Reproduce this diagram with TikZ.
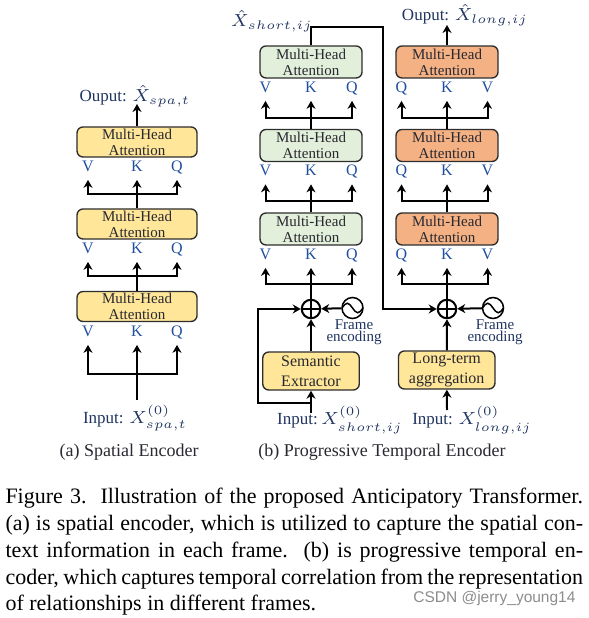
\documentclass[tikz,border=0pt]{standalone}
\usepackage{fontspec}
\setmainfont{Liberation Serif}
\newfontfamily\marksans{Liberation Sans}
\usepackage{xcolor}
\definecolor{attnyellow}{RGB}{255,230,153}
\definecolor{attngreen}{RGB}{226,239,218}
\definecolor{attnorange}{RGB}{244,177,131}
\definecolor{boxline}{RGB}{45,45,45}
\definecolor{boxtext}{RGB}{40,40,48}
\definecolor{qkvblue}{RGB}{31,78,160}
\definecolor{navy}{RGB}{32,52,96}
\usetikzlibrary{arrows.meta,positioning,calc}

\begin{document}
\begin{tikzpicture}[
  x=0.4pt, y=-0.4pt,
  attn/.style={draw=boxline, rounded corners=2.4pt, line width=0.55pt, align=center, inner sep=0pt, text=boxtext, font=\fontsize{6}{6.4}\selectfont},
  spabox/.style={attn, fill=attnyellow, minimum width=48pt, minimum height=12pt},
  shortbox/.style={attn, fill=attngreen, minimum width=40.8pt, minimum height=12.8pt},
  longbox/.style={attn, fill=attnorange, minimum width=40.8pt, minimum height=12.8pt},
  prebox/.style={attn, fill=attnyellow, minimum width=38.6pt, minimum height=15.2pt, font=\fontsize{6.4}{8}\selectfont},
  qkv/.style={inner sep=0pt, outer ysep=3.4pt, text=qkvblue, font=\fontsize{6.4}{6.4}\selectfont, text height=4.3pt, text depth=0pt},
  iolabel/.style={inner sep=0pt, text=navy, font=\fontsize{6.8}{7}\selectfont},
  encnote/.style={inner sep=0pt, text=navy, align=center, font=\fontsize{6}{4.9}\selectfont},
  sublabel/.style={inner sep=0pt, text=boxtext, font=\fontsize{7.2}{8}\selectfont},
  plus/.style={draw, circle, line width=0.8pt, minimum size=7.4pt, inner sep=0pt,
    path picture={\draw[line width=0.6pt] (path picture bounding box.north) -- (path picture bounding box.south)
      (path picture bounding box.west) -- (path picture bounding box.east);}},
  wave/.style={draw, circle, line width=0.6pt, minimum size=8.4pt, inner sep=0pt,
    path picture={\draw[line width=0.6pt] (path picture bounding box.west) sin ++(2.1pt,1.9pt) cos ++(2.1pt,-1.9pt)
      sin ++(2.1pt,-1.9pt) cos ++(2.1pt,1.9pt);}},
  link/.style={line width=0.8pt},
  arrow/.style={-{Stealth[length=3.2pt,width=3.6pt]}, line width=0.8pt}
]
\useasboundingbox (0,0) rectangle (588,618);

% (a) spatial encoder
\node[spabox] (sa1) at (137,142) {Multi-Head\\Attention};
\node[spabox] (sa2) at (137,224) {Multi-Head\\Attention};
\node[spabox] (sa3) at (137,306.5) {Multi-Head\\Attention};
\node[qkv] (sa1v) at (88,166) {V};
\node[qkv] (sa1k) at (137,166) {K};
\node[qkv] (sa1q) at (177,166) {Q};
\node[qkv] (sa2v) at (88,248) {V};
\node[qkv] (sa2k) at (137,248) {K};
\node[qkv] (sa2q) at (177,248) {Q};
\node[qkv] (sa3v) at (88,331) {V};
\node[qkv] (sa3k) at (137,331) {K};
\node[qkv] (sa3q) at (177,331) {Q};
\coordinate (sa2h) at (137,194);
\coordinate (sa3h) at (137,276);
\coordinate (sainh) at (137,374);
\coordinate (sabase) at (137,400);
\coordinate (satop) at (137,104);
\node[iolabel] (outa) at (135,96) {Ouput: $\hat{X}_{spa,t}$};
\node[iolabel] (ina) at (135,418) {Input: $X^{(0)}_{spa,t}$};
\node[sublabel] (capa) at (129,452) {(a) Spatial Encoder};

\draw[arrow] (sa1) -- (satop);
\draw[link] (sa2) -- (sa2h);
\draw[arrow] (sa2h) -| (sa1v.south);
\draw[arrow] (sa2h) -- (sa1k.south);
\draw[arrow] (sa2h) -| (sa1q.south);
\draw[link] (sa3) -- (sa3h);
\draw[arrow] (sa3h) -| (sa2v.south);
\draw[arrow] (sa3h) -- (sa2k.south);
\draw[arrow] (sa3h) -| (sa2q.south);
\draw[link] (sabase) -- (sainh);
\draw[arrow] (sainh) -| (sa3v.south);
\draw[arrow] (sainh) -- (sa3k.south);
\draw[arrow] (sainh) -| (sa3q.south);

% (b) short-term branch
\node[shortbox] (sb1) at (311,62) {Multi-Head\\Attention};
\node[shortbox] (sb2) at (311,145.5) {Multi-Head\\Attention};
\node[shortbox] (sb3) at (311,229) {Multi-Head\\Attention};
\node[qkv] (sb1v) at (265.5,87) {V};
\node[qkv] (sb1k) at (311,87) {K};
\node[qkv] (sb1q) at (352,87) {Q};
\node[qkv] (sb2v) at (265.5,170.5) {V};
\node[qkv] (sb2k) at (311,170.5) {K};
\node[qkv] (sb2q) at (352,170.5) {Q};
\node[qkv] (sb3v) at (265.5,254) {V};
\node[qkv] (sb3k) at (311,254) {K};
\node[qkv] (sb3q) at (352,254) {Q};
\coordinate (sb2h) at (311,118);
\coordinate (sb3h) at (311,201.5);
\coordinate (sbh) at (311,284);
\node[plus] (ps) at (311,309) {};
\node[wave] (fs) at (352.5,308) {};
\node[encnote] (fsn) at (354,332) {Frame\\encoding};
\node[prebox] (sem) at (311,371) {Semantic\\Extractor};
\coordinate (sbase) at (311,413);
\coordinate (sfork) at (311,403);
\coordinate (sleft) at (258,403);
\coordinate (sturn) at (383,27);
\node[iolabel] (outs) at (272,21) {$\hat{X}_{short,ij}$};
\node[iolabel] (ins) at (340,420) {Input:$\,X^{(0)}_{short,ij}$};

\draw[link] (sb2) -- (sb2h);
\draw[arrow] (sb2h) -| (sb1v.south);
\draw[arrow] (sb2h) -- (sb1k.south);
\draw[arrow] (sb2h) -| (sb1q.south);
\draw[link] (sb3) -- (sb3h);
\draw[arrow] (sb3h) -| (sb2v.south);
\draw[arrow] (sb3h) -- (sb2k.south);
\draw[arrow] (sb3h) -| (sb2q.south);
\draw[link] (ps) -- (sbh);
\draw[arrow] (sbh) -| (sb3v.south);
\draw[arrow] (sbh) -- (sb3k.south);
\draw[arrow] (sbh) -| (sb3q.south);
\draw[arrow] (fs) -- (ps);
\draw[arrow] (sem) -- (ps);
\draw[arrow] (sbase) -- (sem);
\draw[arrow] (sfork) -- (sleft) |- (ps);

% (b) long-term branch
\node[longbox] (lb1) at (447,62) {Multi-Head\\Attention};
\node[longbox] (lb2) at (447,145.5) {Multi-Head\\Attention};
\node[longbox] (lb3) at (447,229) {Multi-Head\\Attention};
\node[qkv] (lb1q) at (401.5,87) {Q};
\node[qkv] (lb1k) at (447,87) {K};
\node[qkv] (lb1v) at (487.5,87) {V};
\node[qkv] (lb2q) at (401.5,170.5) {Q};
\node[qkv] (lb2k) at (447,170.5) {K};
\node[qkv] (lb2v) at (487.5,170.5) {V};
\node[qkv] (lb3q) at (401.5,254) {Q};
\node[qkv] (lb3k) at (447,254) {K};
\node[qkv] (lb3v) at (487.5,254) {V};
\coordinate (lb2h) at (447,118);
\coordinate (lb3h) at (447,201.5);
\coordinate (lbh) at (447,284);
\coordinate (ltop) at (447,25);
\node[plus] (pl) at (447,309) {};
\node[wave] (fl) at (493,308) {};
\node[encnote] (fln) at (495,332) {Frame\\encoding};
\node[prebox] (lta) at (446.7,370) {Long-term\\aggregation};
\coordinate (lbase) at (447,410);
\node[iolabel] (outl) at (465,15) {Ouput: $\hat{X}_{long,ij}$};
\node[iolabel] (inl) at (472,420) {Input: $X^{(0)}_{long,ij}$};
\node[sublabel] (capb) at (382,452) {(b) Progressive Temporal Encoder};

\draw[arrow] (lb1) -- (ltop);
\draw[link] (lb2) -- (lb2h);
\draw[arrow] (lb2h) -| (lb1q.south);
\draw[arrow] (lb2h) -- (lb1k.south);
\draw[arrow] (lb2h) -| (lb1v.south);
\draw[link] (lb3) -- (lb3h);
\draw[arrow] (lb3h) -| (lb2q.south);
\draw[arrow] (lb3h) -- (lb2k.south);
\draw[arrow] (lb3h) -| (lb2v.south);
\draw[link] (pl) -- (lbh);
\draw[arrow] (lbh) -| (lb3q.south);
\draw[arrow] (lbh) -- (lb3k.south);
\draw[arrow] (lbh) -| (lb3v.south);
\draw[arrow] (fl) -- (pl);
\draw[arrow] (lta) -- (pl);
\draw[arrow] (lbase) -- (lta);
\draw[arrow] (sb1) |- (sturn) |- (pl);

% caption
\node[anchor=north west, text width=231pt, align=justify, inner sep=0pt, font=\fontsize{8.8}{10.7}\selectfont] (caption) at (5,488)
  {Figure 3.\ \ Illustration of the proposed Anticipatory Transformer.\linebreak (a) is spatial encoder, which is utilized to capture the spatial con-\linebreak text information in each frame.\ \ (b) is progressive temporal en-\linebreak coder, which captures temporal correlation from the representation\linebreak of relationships in different frames.};
\node[anchor=east, inner sep=0pt, text=black!45, font=\marksans\fontsize{6.2}{7}\selectfont] (mark) at (576,598) {CSDN @jerry\_young14};
\end{tikzpicture}
\end{document}
